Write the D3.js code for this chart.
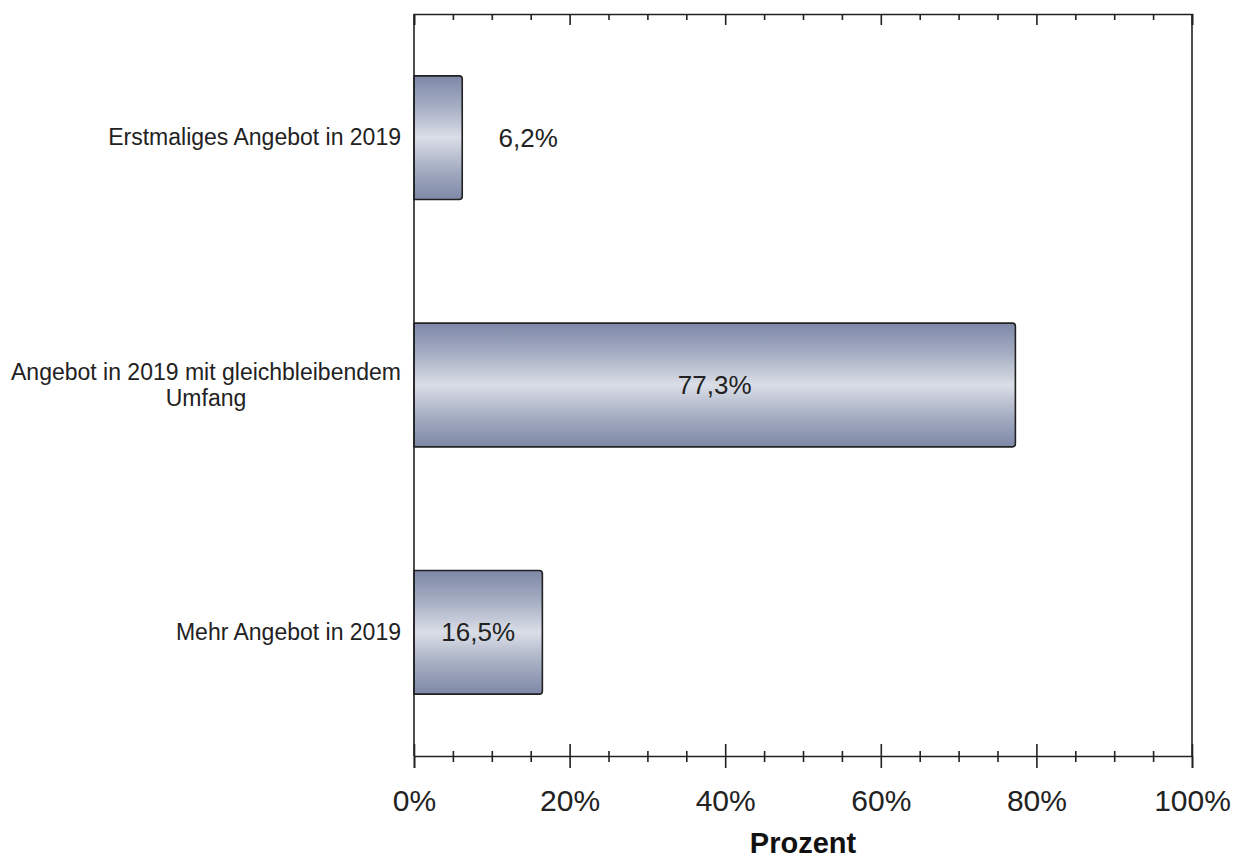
<!DOCTYPE html>
<html>
<head>
<meta charset="utf-8">
<script src="https://cdn.jsdelivr.net/npm/d3@7"></script>
<style>
  html, body { margin: 0; padding: 0; background: #fff; }
  svg { display: block; font-family: Arial, "Liberation Sans", Helvetica, sans-serif; }
</style>
</head>
<body>
<svg id="chart" width="1236" height="861"></svg>
<script>
// ---- data ----
const categories = [
  ["Erstmaliges Angebot in 2019"],
  ["Angebot in 2019 mit gleichbleibendem", "Umfang"],
  ["Mehr Angebot in 2019"]
];
const values = [0.062, 0.773, 0.165];
const valueLabels = ["6,2%", "77,3%", "16,5%"];
const majorTicks = [0, 0.2, 0.4, 0.6, 0.8, 1.0];
const tickLabels = ["0%", "20%", "40%", "60%", "80%", "100%"];
const minorTicks = d3.range(0, 21).map(i => i / 20).filter(v => !majorTicks.some(m => Math.abs(m - v) < 1e-9));
const axisTitle = "Prozent";

// ---- layout ----
const svg = d3.select("#chart");
const pLeft = 414, pRight = 1192, pTop = 14, pBottom = 756;
const ink = "#222";

const x = d3.scaleLinear().domain([0, 1]).range([pLeft, pRight]);
const keys = categories.map((c, i) => i);
const y = d3.scaleBand().domain(keys).range([pTop, pBottom]).paddingInner(0.5).paddingOuter(0.25);

// gradient
const defs = svg.append("defs");
const grad = defs.append("linearGradient").attr("id", "barGrad")
  .attr("x1", 0).attr("y1", 0).attr("x2", 0).attr("y2", 1);
grad.append("stop").attr("offset", "0%").attr("stop-color", "#7e88a7");
grad.append("stop").attr("offset", "25%").attr("stop-color", "#a6aec3");
grad.append("stop").attr("offset", "50%").attr("stop-color", "#dadee7");
grad.append("stop").attr("offset", "75%").attr("stop-color", "#a6aec3");
grad.append("stop").attr("offset", "100%").attr("stop-color", "#7e88a7");

// bars
const g = svg.append("g");
g.selectAll("path.bar").data(values).enter().append("path")
  .attr("class", "bar")
  .attr("d", (d, i) => {
    const x0 = x(0), x1 = x(d), y0 = y(i), y1 = y(i) + y.bandwidth(), r = 3;
    return `M${x0},${y0} L${x1 - r},${y0} Q${x1},${y0} ${x1},${y0 + r} L${x1},${y1 - r} Q${x1},${y1} ${x1 - r},${y1} L${x0},${y1} Z`;
  })
  .attr("fill", "url(#barGrad)")
  .attr("stroke", ink)
  .attr("stroke-width", 1.6);

// value labels
g.selectAll("text.val").data(values).enter().append("text")
  .attr("class", "val")
  .attr("x", (d, i) => {
    const w = x(d) - x(0);
    return w > 100 ? (x(0) + x(d)) / 2 : x(d) + 66;
  })
  .attr("y", (d, i) => y(i) + y.bandwidth() / 2 + 9)
  .attr("text-anchor", "middle")
  .attr("font-size", 26)
  .attr("fill", ink)
  .text((d, i) => valueLabels[i]);

// frame lines (left and right)
svg.append("line").attr("x1", pLeft).attr("x2", pLeft).attr("y1", pTop).attr("y2", pBottom)
  .attr("stroke", ink).attr("stroke-width", 1.6);
svg.append("line").attr("x1", pRight).attr("x2", pRight).attr("y1", pTop).attr("y2", pBottom)
  .attr("stroke", ink).attr("stroke-width", 1.6);

// bottom axis with major ticks
const bottomAxis = svg.append("g").attr("transform", `translate(0,${pBottom})`)
  .call(d3.axisBottom(x).tickValues(majorTicks).tickFormat((d, i) => tickLabels[i]).tickSizeOuter(0).tickSize(12).tickPadding(22));
bottomAxis.select(".domain").attr("stroke", ink).attr("stroke-width", 1.6);
bottomAxis.selectAll(".tick line").attr("y1", -12).attr("y2", 12).attr("stroke", ink).attr("stroke-width", 1.6);
bottomAxis.selectAll(".tick text").attr("font-size", 30).attr("fill", ink).attr("font-family", "Arial, 'Liberation Sans', sans-serif");

// bottom minor ticks
const bottomMinor = svg.append("g").attr("transform", `translate(0,${pBottom})`)
  .call(d3.axisBottom(x).tickValues(minorTicks).tickFormat("").tickSizeOuter(0).tickSize(6));
bottomMinor.select(".domain").remove();
bottomMinor.selectAll(".tick line").attr("y1", -5).attr("y2", 6).attr("stroke", ink).attr("stroke-width", 1.6);

// top axis
const topAxis = svg.append("g").attr("transform", `translate(0,${pTop})`)
  .call(d3.axisBottom(x).tickValues(majorTicks).tickFormat("").tickSizeOuter(0).tickSize(11));
topAxis.select(".domain").attr("stroke", ink).attr("stroke-width", 1.6);
topAxis.selectAll(".tick line").attr("stroke", ink).attr("stroke-width", 1.6);
const topMinor = svg.append("g").attr("transform", `translate(0,${pTop})`)
  .call(d3.axisBottom(x).tickValues(minorTicks).tickFormat("").tickSizeOuter(0).tickSize(6));
topMinor.select(".domain").remove();
topMinor.selectAll(".tick line").attr("stroke", ink).attr("stroke-width", 1.6);

// category labels
const lineH = 26;
categories.forEach((lines, i) => {
  const cy = y(i) + y.bandwidth() / 2;
  const t = svg.append("text").attr("font-size", 23).attr("fill", ink);
  const n = lines.length;
  const first = t.append("tspan").text(lines[0]).attr("x", 0);
  const w = first.node().getComputedTextLength();
  const cx = pLeft - 13 - w / 2;
  t.attr("text-anchor", "middle");
  lines.forEach((ln, k) => {
    const ts = k === 0 ? first : t.append("tspan").text(ln);
    ts.attr("x", cx).attr("y", cy + 7.5 + (k - (n - 1) / 2) * lineH);
  });
});

// axis title
svg.append("text")
  .attr("x", (pLeft + pRight) / 2)
  .attr("y", 853)
  .attr("text-anchor", "middle")
  .attr("font-size", 29)
  .attr("font-weight", "bold")
  .attr("fill", "#111")
  .text(axisTitle);
</script>
</body>
</html>
